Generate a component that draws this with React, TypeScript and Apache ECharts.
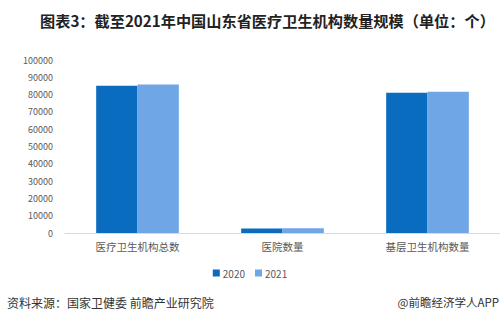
import React, { useEffect, useRef } from "react";
import * as echarts from "echarts";

const categories = ["医疗卫生机构总数", "医院数量", "基层卫生机构数量"];
const values2020 = [85100, 2600, 81100];
const values2021 = [85800, 2700, 81700];
const seriesNames = ["2020", "2021"];
const titleText = "图表3：截至2021年中国山东省医疗卫生机构数量规模（单位：个）";
const sourceText = "资料来源：国家卫健委 前瞻产业研究院";
const brandText = "@前瞻经济学人APP";

export default function App() {
  const ref = useRef<HTMLDivElement>(null);
  useEffect(() => {
    if (!ref.current) return;
    const chart = echarts.init(ref.current, undefined, { renderer: "svg" });
    const font = "'Noto Sans CJK SC', 'Noto Sans', sans-serif";
    chart.setOption({
      animation: false,
      backgroundColor: "#ffffff",
      textStyle: { fontFamily: font },
      title: {
        text: titleText,
        left: 35,
        top: 7,
        textStyle: { fontSize: 15.2, fontWeight: "bold", color: "#222", fontFamily: font },
      },
      legend: {
        data: seriesNames,
        top: 263,
        left: "center",
        itemWidth: 7,
        itemHeight: 7,
        itemGap: 10,
        icon: "rect",
        textStyle: { fontSize: 10, color: "#595959", padding: [0, 0, 0, -2] },
      },
      grid: { left: 65, right: 0, top: 60, bottom: 90 },
      xAxis: {
        type: "category",
        data: categories,
        axisLine: { lineStyle: { color: "#d9d9d9" } },
        axisTick: { show: false },
        axisLabel: { fontSize: 10.5, color: "#595959", margin: 8 },
      },
      yAxis: {
        type: "value",
        min: 0,
        max: 100000,
        interval: 10000,
        splitLine: { show: false },
        axisLine: { show: false },
        axisTick: { show: false },
        axisLabel: {
          fontSize: 9,
          color: "#595959",
          margin: 12,
          formatter: (v: number) => String(v),
        },
      },
      series: [
        {
          name: seriesNames[0],
          type: "bar",
          data: values2020,
          barGap: "0%",
          barCategoryGap: "43%",
          itemStyle: { color: "#0a6cbf" },
        },
        {
          name: seriesNames[1],
          type: "bar",
          data: values2021,
          barGap: "0%",
          barCategoryGap: "43%",
          itemStyle: { color: "#6fa6e6" },
        },
      ],
      graphic: [
        {
          type: "text",
          x: 7,
          y: 302,
          style: {
            text: sourceText,
            fontSize: 12,
            fill: "#333",
            fontFamily: font,
            textVerticalAlign: "middle",
          },
        },
        {
          type: "text",
          x: 499,
          y: 302,
          style: {
            text: brandText,
            fontSize: 11.5,
            fill: "#333",
            fontFamily: font,
            textAlign: "right",
            textVerticalAlign: "middle",
          },
        },
      ],
    });
    return () => chart.dispose();
  }, []);
  return (
    <div
      ref={ref}
      style={{ position: "fixed", left: 0, top: 0, width: 500, height: 323 }}
    />
  );
}
